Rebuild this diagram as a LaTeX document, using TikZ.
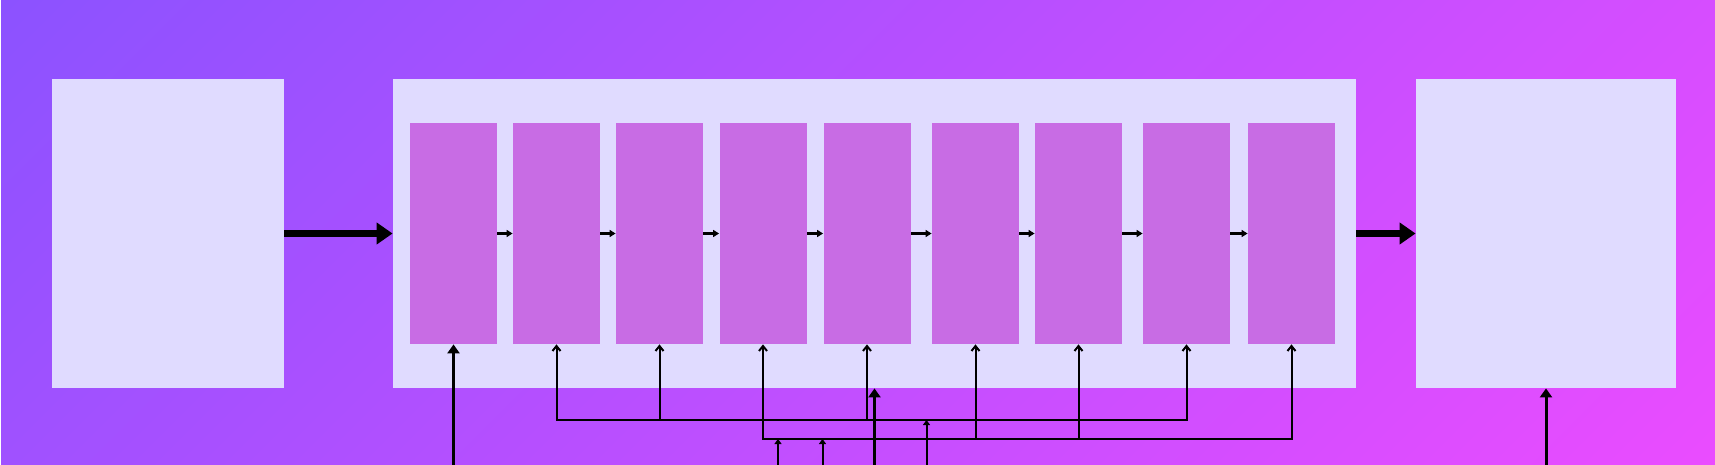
\documentclass[tikz,border=0pt]{standalone}
\usetikzlibrary{arrows.meta}
\definecolor{bgA}{RGB}{140,82,255}
\definecolor{bgB}{RGB}{234,76,255}
\definecolor{panelc}{RGB}{224,219,255}
\definecolor{stagec}{RGB}{200,108,228}
\pgfdeclarehorizontalshading{bgshade}{100bp}{color(0bp)=(bgA); color(27.53bp)=(bgA); color(72.47bp)=(bgB); color(100bp)=(bgB)}
\begin{document}
\begin{tikzpicture}[x=0.5pt,y=-0.5pt,
  panel/.style={rectangle, fill=panelc, draw=none, inner sep=0pt, minimum height=154.5pt},
  stagebox/.style={rectangle, fill=stagec, draw=none, inner sep=0pt, minimum width=43.5pt, minimum height=110.5pt},
  thickarrow/.style={line width=3pt, -{Triangle[length=8pt,width=10.5pt]}},
  midarrow/.style={line width=1.5pt, -{Triangle[length=4.5pt,width=6pt]}},
  steparrow/.style={line width=1pt, -{Triangle[length=3pt,width=3.5pt]}},
  feedarrow/.style={line width=1pt, -{Straight Barb[length=2.5pt,width=4pt]}},
  feedboth/.style={line width=1pt, {Straight Barb[length=2.5pt,width=4pt]}-{Straight Barb[length=2.5pt,width=4pt]}},
  inarrow/.style={line width=1pt, -{Triangle[length=2.5pt,width=3.5pt]}}]
\useasboundingbox (0,0) rectangle (1715,465);
\fill[white] (0,0) rectangle (1715,465);
\begin{scope}
  \clip (1,1) rectangle (1715,465);
  \shade[shading=bgshade, shading angle=-45] (0.5,-624.5) rectangle (1715.5,1090.5);
\end{scope}
% panels
\node[panel, minimum width=116pt] (src) at (168,233.5) {};
\node[panel, minimum width=481.5pt] (pipe) at (874.5,233.5) {};
\node[panel, minimum width=130pt] (dst) at (1546,233.5) {};
% stages
\foreach \i/\x in {1/453.5,2/556.5,3/659.5,4/763,5/867,6/975.5,7/1078.5,8/1186.5,9/1291.5}
  \node[stagebox] (b\i) at (\x,233.5) {};
% main flow
\draw[thickarrow] (src) -- (pipe);
\draw[thickarrow] (pipe) -- (dst);
\foreach \i/\j in {1/2,2/3,3/4,4/5,5/6,6/7,7/8,8/9}
  \draw[steparrow] (b\i) -- (b\j);
% bottom inputs
\coordinate (in1) at (453.5,465);
\coordinate (inM) at (874.5,465);
\coordinate (inR) at (1546,465);
\draw[midarrow] (in1) -- (b1.south);
\draw[midarrow] (inM) -- (pipe.south);
\draw[midarrow] (inR) -- (dst.south);
% bus A
\coordinate (busA) at (0,420);
\draw[feedboth] (b2.south) -- (b2.south |- busA) -- (b8.south |- busA) -- (b8.south);
\draw[feedarrow] (b3.south |- busA) -- (b3.south);
\draw[feedarrow] (b5.south |- busA) -- (b5.south);
\coordinate (inA) at (926.5,465);
\draw[inarrow] (inA) -- (inA |- busA);
% bus B
\coordinate (busB) at (0,439);
\draw[feedboth] (b4.south) -- (b4.south |- busB) -- (b9.south |- busB) -- (b9.south);
\draw[feedarrow] (b6.south |- busB) -- (b6.south);
\draw[feedarrow] (b7.south |- busB) -- (b7.south);
\coordinate (inB1) at (778,465);
\coordinate (inB2) at (822.5,465);
\draw[inarrow] (inB1) -- (inB1 |- busB);
\draw[inarrow] (inB2) -- (inB2 |- busB);
\end{tikzpicture}
\end{document}
